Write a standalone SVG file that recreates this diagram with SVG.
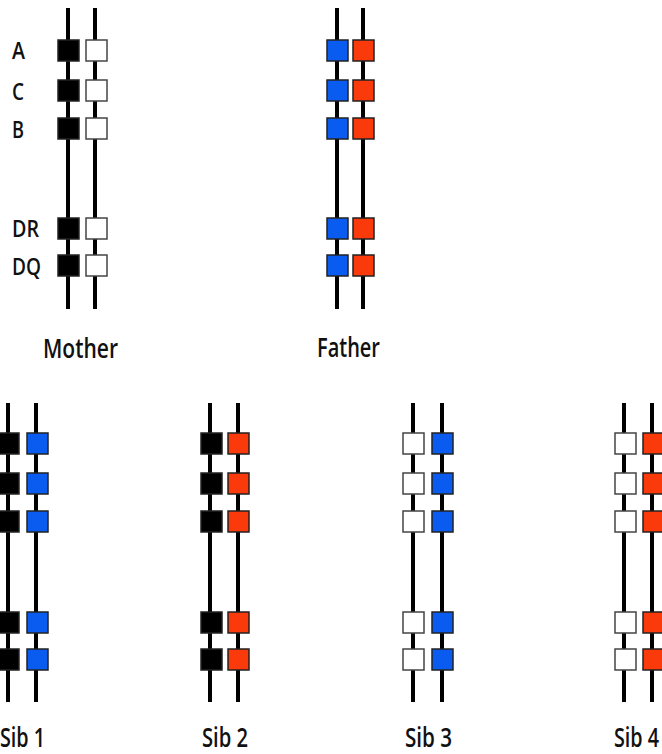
<svg xmlns="http://www.w3.org/2000/svg" width="662" height="754" viewBox="0 0 662 754">
<style>
.chr{stroke:#000;stroke-width:4;fill:none}
.bx{stroke:#222;stroke-width:1.5}
.k{fill:#000}
.w{fill:#fff;stroke:#444}
.b{fill:#0a5cf0}
.r{fill:#fa3a0a}
text{font-family:"Open Sans","Noto Sans","Liberation Sans",sans-serif;fill:#111;font-weight:600}
.lab{font-size:23px}
.name{font-size:27px}
</style>
<rect width="662" height="754" fill="#fff"/>
<g id="locus-labels">
<text class="lab" x="12" y="59" textLength="13" lengthAdjust="spacingAndGlyphs">A</text>
<text class="lab" x="12" y="100" textLength="12" lengthAdjust="spacingAndGlyphs">C</text>
<text class="lab" x="12" y="138" textLength="12" lengthAdjust="spacingAndGlyphs">B</text>
<text class="lab" x="12" y="237" textLength="27" lengthAdjust="spacingAndGlyphs">DR</text>
<text class="lab" x="12" y="275" textLength="29" lengthAdjust="spacingAndGlyphs">DQ</text>
</g>
<g id="connectors">
<line class="chr" x1="68" y1="8" x2="68" y2="309"/>
<line class="chr" x1="95" y1="8" x2="95" y2="309"/>
<line class="chr" x1="337" y1="8" x2="337" y2="309"/>
<line class="chr" x1="363" y1="8" x2="363" y2="309"/>
<line class="chr" x1="8" y1="403" x2="8" y2="702"/>
<line class="chr" x1="36" y1="403" x2="36" y2="702"/>
<line class="chr" x1="210" y1="403" x2="210" y2="702"/>
<line class="chr" x1="238" y1="403" x2="238" y2="702"/>
<line class="chr" x1="413" y1="403" x2="413" y2="702"/>
<line class="chr" x1="442" y1="403" x2="442" y2="702"/>
<line class="chr" x1="624" y1="403" x2="624" y2="702"/>
<line class="chr" x1="652" y1="403" x2="652" y2="702"/>
</g>
<g id="mother">
<g class="bx k"><rect x="58" y="40" width="21" height="21"/><rect x="58" y="80" width="21" height="21"/><rect x="58" y="118" width="21" height="21"/><rect x="58" y="218" width="21" height="21"/><rect x="58" y="255" width="21" height="21"/></g>
<g class="bx w"><rect x="86" y="40" width="21" height="21"/><rect x="86" y="80" width="21" height="21"/><rect x="86" y="118" width="21" height="21"/><rect x="86" y="218" width="21" height="21"/><rect x="86" y="255" width="21" height="21"/></g>
<text class="name" x="43" y="358" textLength="75" lengthAdjust="spacingAndGlyphs">Mother</text>
</g>
<g id="father">
<g class="bx b"><rect x="327" y="40" width="21" height="21"/><rect x="327" y="80" width="21" height="21"/><rect x="327" y="118" width="21" height="21"/><rect x="327" y="218" width="21" height="21"/><rect x="327" y="255" width="21" height="21"/></g>
<g class="bx r"><rect x="353" y="40" width="21" height="21"/><rect x="353" y="80" width="21" height="21"/><rect x="353" y="118" width="21" height="21"/><rect x="353" y="218" width="21" height="21"/><rect x="353" y="255" width="21" height="21"/></g>
<text class="name" x="317" y="357" textLength="63" lengthAdjust="spacingAndGlyphs">Father</text>
</g>
<g id="sib1">
<g class="bx k"><rect x="-3" y="433" width="22" height="21"/><rect x="-3" y="473" width="22" height="21"/><rect x="-3" y="511" width="22" height="21"/><rect x="-3" y="612" width="22" height="21"/><rect x="-3" y="649" width="22" height="21"/></g>
<g class="bx b"><rect x="27" y="433" width="21" height="21"/><rect x="27" y="473" width="21" height="21"/><rect x="27" y="511" width="21" height="21"/><rect x="27" y="612" width="21" height="21"/><rect x="27" y="649" width="21" height="21"/></g>
<text class="name" x="0" y="747" textLength="45" lengthAdjust="spacingAndGlyphs">Sib 1</text>
</g>
<g id="sib2">
<g class="bx k"><rect x="201" y="433" width="21" height="21"/><rect x="201" y="473" width="21" height="21"/><rect x="201" y="511" width="21" height="21"/><rect x="201" y="612" width="21" height="21"/><rect x="201" y="649" width="21" height="21"/></g>
<g class="bx r"><rect x="228" y="433" width="21" height="21"/><rect x="228" y="473" width="21" height="21"/><rect x="228" y="511" width="21" height="21"/><rect x="228" y="612" width="21" height="21"/><rect x="228" y="649" width="21" height="21"/></g>
<text class="name" x="202" y="747" textLength="46" lengthAdjust="spacingAndGlyphs">Sib 2</text>
</g>
<g id="sib3">
<g class="bx w"><rect x="403" y="433" width="21" height="21"/><rect x="403" y="473" width="21" height="21"/><rect x="403" y="511" width="21" height="21"/><rect x="403" y="612" width="21" height="21"/><rect x="403" y="649" width="21" height="21"/></g>
<g class="bx b"><rect x="432" y="433" width="21" height="21"/><rect x="432" y="473" width="21" height="21"/><rect x="432" y="511" width="21" height="21"/><rect x="432" y="612" width="21" height="21"/><rect x="432" y="649" width="21" height="21"/></g>
<text class="name" x="405" y="747" textLength="47" lengthAdjust="spacingAndGlyphs">Sib 3</text>
</g>
<g id="sib4">
<g class="bx w"><rect x="615" y="433" width="21" height="21"/><rect x="615" y="473" width="21" height="21"/><rect x="615" y="511" width="21" height="21"/><rect x="615" y="612" width="21" height="21"/><rect x="615" y="649" width="21" height="21"/></g>
<g class="bx r"><rect x="643" y="433" width="21" height="21"/><rect x="643" y="473" width="21" height="21"/><rect x="643" y="511" width="21" height="21"/><rect x="643" y="612" width="21" height="21"/><rect x="643" y="649" width="21" height="21"/></g>
<text class="name" x="614" y="747" textLength="45" lengthAdjust="spacingAndGlyphs">Sib 4</text>
</g>
</svg>
